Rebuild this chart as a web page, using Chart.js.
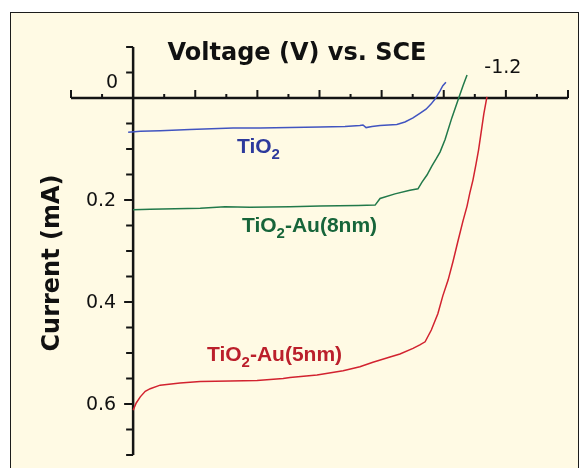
<!DOCTYPE html>
<html>
<head>
<meta charset="utf-8">
<script src="https://cdn.jsdelivr.net/npm/chart.js@4"></script>
<style>
  html, body { margin: 0; padding: 0; background: #fff; overflow: hidden; }
  #cadre {
    position: absolute; left: 10px; top: 12px; width: 569px; height: 470px;
    box-sizing: border-box; background: #fffae4;
    border: 1.5px solid #1c1c1c; border-bottom: none;
  }
  #graphIV { position: absolute; left: 0; top: 0; }
</style>
</head>
<body>
<div id="cadre"></div>
<canvas id="graphIV" width="580" height="468"></canvas>
<script>
// Courbes courant-tension (V vs. SCE, courant en mA)
const vTiO2 = [0.016, -0.023, -0.087, -0.183, -0.322, -0.409, -0.505, -0.602, -0.682, -0.730, -0.740, -0.750, -0.769, -0.795, -0.849, -0.875, -0.901, -0.923, -0.943, -0.959, -0.972, -0.988, -0.997, -1.007];
const iTiO2 = [0.067, 0.065, 0.064, 0.062, 0.059, 0.059, 0.058, 0.057, 0.056, 0.054, 0.053, 0.058, 0.056, 0.054, 0.052, 0.047, 0.039, 0.030, 0.022, 0.012, 0.002, -0.014, -0.024, -0.031];

const vAu8 = [0, -0.055, -0.135, -0.216, -0.296, -0.376, -0.505, -0.602, -0.724, -0.779, -0.795, -0.843, -0.891, -0.917, -0.930, -0.946, -0.962, -0.975, -0.988, -1.004, -1.026, -1.046, -1.062, -1.075];
const iAu8 = [0.219, 0.218, 0.217, 0.216, 0.213, 0.214, 0.213, 0.212, 0.211, 0.210, 0.197, 0.188, 0.181, 0.178, 0.165, 0.151, 0.133, 0.120, 0.106, 0.082, 0.039, 0.004, -0.024, -0.045];

const vAu5 = [0, -0.010, -0.023, -0.039, -0.055, -0.087, -0.151, -0.216, -0.312, -0.399, -0.483, -0.505, -0.592, -0.676, -0.730, -0.772, -0.827, -0.859, -0.901, -0.923, -0.940, -0.960, -0.981, -0.997, -1.014, -1.030, -1.046, -1.062, -1.075, -1.084, -1.094, -1.104, -1.112, -1.120, -1.129, -1.139];
const iAu5 = [0.612, 0.598, 0.586, 0.575, 0.570, 0.563, 0.559, 0.556, 0.555, 0.554, 0.550, 0.548, 0.543, 0.535, 0.527, 0.518, 0.508, 0.502, 0.491, 0.484, 0.478, 0.455, 0.423, 0.388, 0.357, 0.320, 0.280, 0.241, 0.212, 0.186, 0.161, 0.129, 0.102, 0.069, 0.031, -0.002];

// graduations des axes
const voltTicks = [0.2, 0.1, 0, -0.1, -0.2, -0.3, -0.4, -0.5, -0.6, -0.7, -0.8, -0.9, -1.0, -1.1, -1.2, -1.3, -1.4];
const currentTicks = [-0.1, -0.05, 0, 0.05, 0.1, 0.15, 0.2, 0.25, 0.3, 0.35, 0.4, 0.45, 0.5, 0.55, 0.6, 0.65, 0.7];
const voltLabels = [-1.2];
const currentLabels = [0.2, 0.4, 0.6];

const couleurs = {
  TiO2: { trait: '#4154c0', texte: '#2d3a9c' },
  Au8: { trait: '#22794a', texte: '#17653a' },
  Au5: { trait: '#d2222f', texte: '#bb1f2b' }
};

function points(vs, is) {
  return vs.map((v, k) => ({ x: v, y: is[k] }));
}

// Axes dessinés à la main : l'axe des tensions passe par I = 0, celui des courants par V = 0
const axesPlugin = {
  id: 'axesSCE',
  beforeDatasetsDraw(chart) {
    const ctx = chart.ctx, sx = chart.scales.x, sy = chart.scales.y;
    const x0 = sx.getPixelForValue(0), y0 = sy.getPixelForValue(0);
    ctx.save();
    ctx.strokeStyle = '#141414';
    ctx.lineWidth = 2.5;
    ctx.beginPath();
    ctx.moveTo(sx.getPixelForValue(voltTicks[0]), y0);
    ctx.lineTo(sx.getPixelForValue(voltTicks[voltTicks.length - 1]), y0);
    ctx.moveTo(x0, sy.getPixelForValue(currentTicks[0]));
    ctx.lineTo(x0, sy.getPixelForValue(currentTicks[currentTicks.length - 1]));
    ctx.stroke();

    ctx.lineWidth = 2;
    ctx.beginPath();
    voltTicks.forEach(v => {
      if (v === 0) return;
      const major = Math.round(v * 10) % 2 === 0;
      const px = sx.getPixelForValue(v);
      ctx.moveTo(px, y0);
      ctx.lineTo(px, y0 - (major ? 8 : 4));
    });
    currentTicks.forEach(c => {
      if (c === 0) return;
      const major = currentLabels.includes(c);
      const py = sy.getPixelForValue(c);
      ctx.moveTo(x0, py);
      ctx.lineTo(x0 - (major ? 9 : 7), py);
    });
    ctx.stroke();
    ctx.restore();
  },
  afterDraw(chart) {
    const ctx = chart.ctx, sx = chart.scales.x, sy = chart.scales.y;
    const x0 = sx.getPixelForValue(0), y0 = sy.getPixelForValue(0);
    ctx.save();
    ctx.fillStyle = '#111';

    // valeurs des graduations
    ctx.font = '19px "DejaVu Sans"';
    ctx.textAlign = 'right';
    ctx.textBaseline = 'middle';
    currentLabels.forEach(c => ctx.fillText(c.toFixed(1), x0 - 17, sy.getPixelForValue(c) + 1));
    ctx.textBaseline = 'alphabetic';
    ctx.fillText('0', x0 - 15, y0 - 10);
    ctx.textAlign = 'center';
    voltLabels.forEach(v => ctx.fillText(v.toFixed(1), sx.getPixelForValue(v) - 3, y0 - 25));

    // titres des axes
    ctx.font = 'bold 24px "DejaVu Sans"';
    ctx.fillText('Voltage (V) vs. SCE', 297, 60);
    ctx.save();
    ctx.translate(59, 263);
    ctx.rotate(-Math.PI / 2);
    ctx.fillText('Current (mA)', 0, 0);
    ctx.restore();

    // étiquettes des courbes avec indice
    ecrireFormule(ctx, 'TiO', '2', '', 237, 153, couleurs.TiO2.texte);
    ecrireFormule(ctx, 'TiO', '2', '-Au(8nm)', 242, 232, couleurs.Au8.texte);
    ecrireFormule(ctx, 'TiO', '2', '-Au(5nm)', 207, 361, couleurs.Au5.texte);
    ctx.restore();
  }
};

function ecrireFormule(ctx, debut, indice, fin, x, y, couleur) {
  ctx.fillStyle = couleur;
  ctx.textAlign = 'left';
  ctx.textBaseline = 'alphabetic';
  ctx.font = 'bold 21px "Liberation Sans"';
  ctx.fillText(debut, x, y);
  x += ctx.measureText(debut).width;
  ctx.font = 'bold 15px "Liberation Sans"';
  ctx.fillText(indice, x, y + 6);
  x += ctx.measureText(indice).width;
  ctx.font = 'bold 21px "Liberation Sans"';
  ctx.fillText(fin, x, y);
}

const ctx = document.getElementById('graphIV').getContext('2d');
new Chart(ctx, {
  type: 'line',
  data: {
    datasets: [
      { label: 'TiO2', data: points(vTiO2, iTiO2), borderColor: couleurs.TiO2.trait },
      { label: 'TiO2-Au(8nm)', data: points(vAu8, iAu8), borderColor: couleurs.Au8.trait },
      { label: 'TiO2-Au(5nm)', data: points(vAu5, iAu5), borderColor: couleurs.Au5.trait }
    ]
  },
  options: {
    responsive: false,
    animation: false,
    layout: { padding: { left: 71, right: 12, top: 47, bottom: 13 } },
    elements: {
      line: { borderWidth: 1.5, tension: 0, fill: false },
      point: { radius: 0 }
    },
    scales: {
      x: { type: 'linear', min: -1.4, max: 0.2, reverse: true, display: false },
      y: { type: 'linear', min: -0.1, max: 0.7, reverse: true, display: false }
    },
    plugins: { legend: { display: false }, tooltip: { enabled: false } }
  },
  plugins: [axesPlugin]
});
</script>
</body>
</html>
